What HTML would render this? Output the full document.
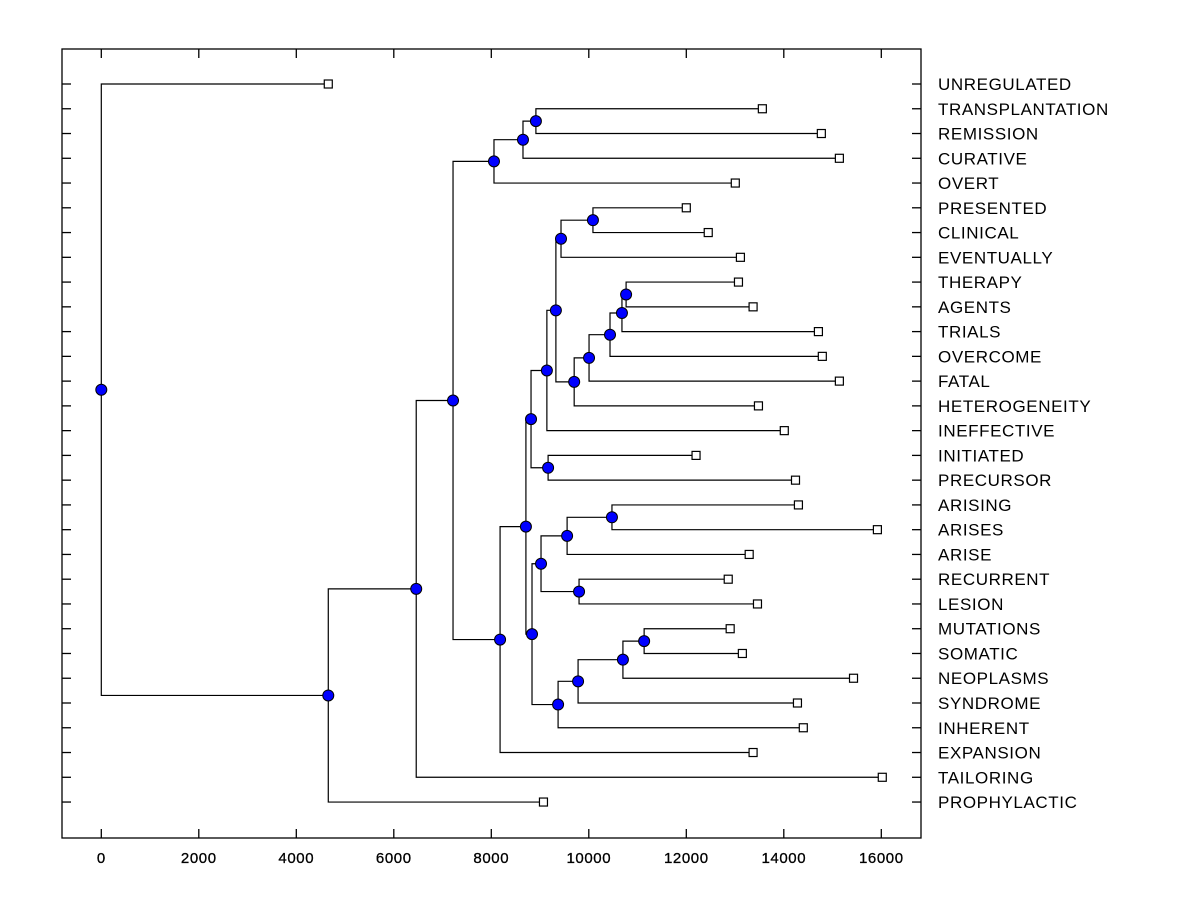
<!DOCTYPE html>
<html><head><meta charset="utf-8"><style>
body{margin:0;background:#fff;}
svg{display:block;font-family:"Liberation Sans",Arial,sans-serif;}
</style></head><body>
<svg id="chart" width="1200" height="900" viewBox="0 0 1200 900"></svg>
<script>
const leafNames=["UNREGULATED","TRANSPLANTATION","REMISSION","CURATIVE","OVERT","PRESENTED","CLINICAL","EVENTUALLY","THERAPY","AGENTS","TRIALS","OVERCOME","FATAL","HETEROGENEITY","INEFFECTIVE","INITIATED","PRECURSOR","ARISING","ARISES","ARISE","RECURRENT","LESION","MUTATIONS","SOMATIC","NEOPLASMS","SYNDROME","INHERENT","EXPANSION","TAILORING","PROPHYLACTIC"];
const leafValues=[4656,13560,14770,15140,13005,12000,12450,13110,13070,13370,14710,14790,15140,13480,14010,12200,14240,14300,15920,13290,12860,13460,12900,13150,15430,14280,14400,13370,16020,9070];
const mergeLeft=[1,30,31,5,33,8,35,36,37,38,34,40,15,41,17,44,20,45,22,48,49,50,47,43,53,32,55,56,0];
const mergeRight=[2,3,4,6,7,9,10,11,12,13,39,14,16,42,18,19,21,46,23,24,25,26,51,52,27,54,28,29,57];
const mergeHeights=[8915,8650,8055,10085,9430,10765,10680,10435,10005,9700,9325,9140,9165,8815,10475,9555,9800,9020,11135,10700,9780,9370,8835,8710,8180,7215,6460,4656,0];
const xTicks=[0,2000,4000,6000,8000,10000,12000,14000,16000];

const NS="http://www.w3.org/2000/svg";
const svg=document.getElementById('chart');
const L=62,R=921,T=49,B=838;
const xs=v=>101.3+v*0.04875;
const ys=i=>84+i*24.76;
function mk(tag,attrs,parent){const e=document.createElementNS(NS,tag);for(const k in attrs)e.setAttribute(k,attrs[k]);(parent||svg).appendChild(e);return e;}

const frame=mk('rect',{x:L,y:T,width:R-L,height:B-T,fill:'none',stroke:'#000','stroke-width':1.3});



const xg=mk('g',{});


xTicks.forEach(v=>{
  const x=xs(v);
  mk('line',{x1:x,y1:B,x2:x,y2:B-9,stroke:'#000','stroke-width':1.3},xg);
  mk('line',{x1:x,y1:T,x2:x,y2:T+9,stroke:'#000','stroke-width':1.3},xg);
  const t=mk('text',{x:x,y:863,'text-anchor':'middle','font-size':15,'letter-spacing':0.6,'stroke':'#000','stroke-width':0.3},xg);
  t.textContent=v;
  
  
});

const yg=mk('g',{});


leafNames.forEach((n,i)=>{
  const y=ys(i);
  mk('line',{x1:L,y1:y,x2:L+9,y2:y,stroke:'#000','stroke-width':1.3},yg);
  mk('line',{x1:R,y1:y,x2:R-9,y2:y,stroke:'#000','stroke-width':1.3},yg);
  const t=mk('text',{x:938,y:y+6,'font-size':17,'letter-spacing':0.6},yg);
  t.textContent=n;
  
  
});

const nx=[],ny=[];
leafValues.forEach((v,i)=>{nx[i]=xs(v);ny[i]=ys(i);});
const N=leafNames.length;
mergeLeft.forEach((a,k)=>{const id=N+k;nx[id]=xs(mergeHeights[k]);ny[id]=(ny[a]+ny[mergeRight[k]])/2;});

const lg=mk('g',{});


mergeLeft.forEach((a,k)=>{
  const id=N+k,b=mergeRight[k],x=nx[id];
  const p=mk('path',{d:`M${nx[a]},${ny[a]}H${x}V${ny[b]}H${nx[b]}`,fill:'none',stroke:'#000','stroke-width':1.2},lg);
  
  
});
leafValues.forEach((v,i)=>{
  const r=mk('rect',{x:nx[i]-4,y:ny[i]-4,width:8,height:8,fill:'#fff',stroke:'#000','stroke-width':1.2});
  
  
});
mergeLeft.forEach((a,k)=>{
  const id=N+k;
  const c=mk('circle',{cx:nx[id],cy:ny[id],r:5.5,fill:'#0000ff',stroke:'#000','stroke-width':1});
  
  
});
</script>
</body></html>
